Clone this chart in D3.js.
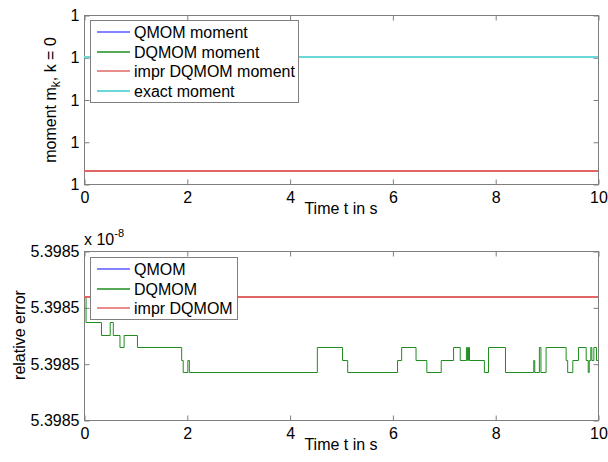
<!DOCTYPE html>
<html>
<head>
<meta charset="utf-8">
<script src="https://cdn.jsdelivr.net/npm/d3@7"></script>
<style>
body { margin: 0; background: #fff; }
svg text { font-family: "Liberation Sans", Arial, sans-serif; font-size: 16px; fill: #000; }
.axis line { stroke: #7f7f7f; }
.axis .domain { display: none; }
</style>
</head>
<body>
<div id="chart"></div>
<script>
const timeTicks = [0, 2, 4, 6, 8, 10];

// upper panel: moment m_0, tiny offsets from 1 (all ticks read "1")
const momentTicks = [0, 1, 2, 3, 4];
const momentTickLabel = '1';
const momentTime = [0, 10];
const qmomMoment = [0.3, 0.3];
const dqmomMoment = [0.3, 0.3];
const imprMoment = [0.3, 0.3];
const exactMoment = [3, 3];

// lower panel: relative error, offsets above 5.3985e-8 in units of 1e-23
const errTicks = [0, 3, 6, 9];
const errTickLabel = '5.3985';
const errTime = [0, 10];
const qmomErr = [6.55, 6.55];
const imprErr = [6.55, 6.55];
const dqmomTime = [0, 0.04, 0.34, 0.51, 0.57, 0.70, 0.78, 1.04, 1.90, 1.93, 2.02, 2.05,
	4.54, 5.03, 5.13, 6.10, 6.18, 6.46, 6.67, 6.95, 7.19, 7.32, 7.44, 7.46, 7.48, 7.50,
	7.79, 7.87, 8.20, 8.75, 8.77, 8.86, 8.89, 8.99, 9.38, 9.41, 9.51, 9.62, 9.77, 9.81,
	9.83, 9.86, 9.88, 9.92, 9.97, 10];
const dqmomErr = [6.55, 5.21, 4.55, 5.21, 4.55, 3.88, 4.55, 3.88, 3.22, 2.55, 3.22, 2.55,
	3.88, 3.22, 2.55, 3.22, 3.88, 3.22, 2.55, 3.22, 3.88, 3.22, 3.88, 3.22, 3.88, 3.22,
	2.55, 3.88, 2.55, 3.22, 2.55, 3.88, 2.55, 3.88, 3.22, 2.55, 3.22, 3.88, 3.22, 2.55,
	3.22, 3.88, 3.22, 3.88, 3.22, 3.22];

const colors = {qmom: '#5a5aff', dqmom: '#1e8c1e', impr: '#e06666', exact: '#6ad8d8'};

const W = 608, H = 462;
const svg = d3.select('#chart').append('svg')
	.attr('width', W)
	.attr('height', H);

function zip(xs, ys) { return xs.map((x, i) => ({t: x, v: ys[i]})); }

// even widths sit on pixel edges, odd widths on pixel centres
function snap(v, w) { return Math.round(v) + (w % 2 === 0 ? 0 : 0.5); }

function drawPanel(cfg) {
	const x = d3.scaleLinear().domain([0, 10]).range([cfg.left, cfg.right]);
	const y = d3.scaleLinear().domain(cfg.yDomain).range([cfg.bottom, cfg.top]);
	const g = svg.append('g');

	// box
	g.append('rect')
		.attr('x', cfg.left + 0.5).attr('y', cfg.top + 0.5)
		.attr('width', cfg.right - cfg.left).attr('height', cfg.bottom - cfg.top)
		.attr('fill', 'none').attr('stroke', '#7f7f7f');

	g.append('g').attr('class', 'axis')
		.attr('transform', `translate(0.5,${cfg.bottom + 0.5})`)
		.call(d3.axisBottom(x).tickValues(timeTicks).tickSize(-5).tickPadding(7).tickFormat(d3.format('d')));
	g.append('g').attr('class', 'axis')
		.attr('transform', `translate(0.5,${cfg.top + 0.5})`)
		.call(d3.axisTop(x).tickValues(timeTicks).tickSize(-5).tickFormat(''));
	g.append('g').attr('class', 'axis')
		.attr('transform', `translate(${cfg.left + 0.5},0.5)`)
		.call(d3.axisLeft(y).tickValues(cfg.yTicks).tickSize(-5).tickPadding(5).tickFormat(() => cfg.yTickLabel));
	g.append('g').attr('class', 'axis')
		.attr('transform', `translate(${cfg.right + 0.5},0.5)`)
		.call(d3.axisRight(y).tickValues(cfg.yTicks).tickSize(-5).tickFormat(''));
	g.selectAll('.axis text').style('font-size', '16px').attr('fill', '#000');

	cfg.series.forEach(s => {
		const w = s.width || 1;
		g.append('path')
			.datum(zip(s.t, s.v))
			.attr('d', d3.line()
				.x(d => x(d.t))
				.y(d => snap(y(d.v), w))
				.curve(s.step ? d3.curveStepAfter : d3.curveLinear))
			.attr('fill', 'none')
			.attr('stroke', s.color)
			.attr('stroke-width', w);
	});

	g.append('text')
		.attr('x', (cfg.left + cfg.right) / 2)
		.attr('y', cfg.bottom + 30)
		.attr('text-anchor', 'middle')
		.text('Time t in s');

	// legend
	const lg = g.append('g').attr('transform', `translate(${cfg.legend.x},${cfg.legend.y})`);
	lg.append('rect')
		.attr('x', 0.5).attr('y', 0.5)
		.attr('width', cfg.legend.w).attr('height', cfg.legend.h)
		.attr('fill', '#fff').attr('stroke', '#7f7f7f');
	const rows = lg.selectAll('.row')
		.data(cfg.series.filter(s => s.label))
		.enter().append('g')
		.attr('class', 'row')
		.attr('transform', (d, i) => `translate(0,${Math.round(12 + i * 19.5)})`);
	rows.append('line')
		.attr('x1', 7).attr('x2', 40)
		.attr('stroke', d => d.color)
		.attr('stroke-width', d => d.legendWidth || 1.5);
	rows.append('text')
		.attr('x', 44).attr('dy', '0.35em')
		.text(d => d.label);
	return g;
}

const momentPanel = drawPanel({
	left: 84, right: 598, top: 15, bottom: 184,
	yDomain: [0, 4], yTicks: momentTicks, yTickLabel: momentTickLabel,
	series: [
		{t: momentTime, v: qmomMoment, color: colors.qmom, width: 2, label: 'QMOM moment'},
		{t: momentTime, v: dqmomMoment, color: colors.dqmom, width: 2, label: 'DQMOM moment'},
		{t: momentTime, v: imprMoment, color: colors.impr, width: 2, label: 'impr DQMOM moment'},
		{t: momentTime, v: exactMoment, color: colors.exact, width: 2, legendWidth: 2, label: 'exact moment'}
	],
	legend: {x: 90, y: 20, w: 208, h: 82}
});

const errorPanel = drawPanel({
	left: 84, right: 598, top: 251, bottom: 420,
	yDomain: [0, 9], yTicks: errTicks, yTickLabel: errTickLabel,
	series: [
		{t: errTime, v: qmomErr, color: colors.qmom, width: 2, label: 'QMOM'},
		{t: dqmomTime, v: dqmomErr, color: colors.dqmom, step: true, label: 'DQMOM'},
		{t: errTime, v: imprErr, color: colors.impr, width: 2, label: 'impr DQMOM'}
	],
	legend: {x: 90, y: 257, w: 147, h: 62}
});

// y labels
const yl1 = svg.append('text')
	.attr('transform', 'translate(56,100) rotate(-90)')
	.attr('text-anchor', 'middle');
yl1.append('tspan').text('moment m');
yl1.append('tspan').attr('dy', 4).style('font-size', '12px').text('k');
yl1.append('tspan').attr('dy', -4).text(', k = 0');

svg.append('text')
	.attr('transform', 'translate(25,335) rotate(-90)')
	.attr('text-anchor', 'middle')
	.text('relative error');

// exponent note
const ex = svg.append('text').attr('x', 84).attr('y', 245);
ex.append('tspan').text('x 10');
ex.append('tspan').attr('dy', -8).style('font-size', '11px').text('-8');
</script>
</body>
</html>
